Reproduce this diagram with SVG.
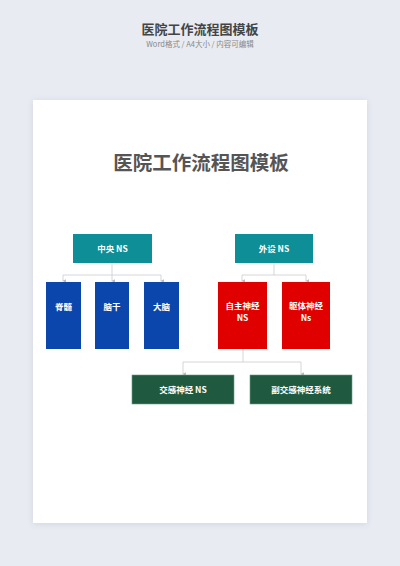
<svg xmlns="http://www.w3.org/2000/svg" width="400" height="566" viewBox="0 0 400 566">
<defs>
<filter id="sh" x="-10%" y="-10%" width="120%" height="120%"><feGaussianBlur stdDeviation="3"/></filter>
<marker id="ar" viewBox="0 0 6 6" refX="3" refY="5" markerWidth="4" markerHeight="4" orient="auto-start-reverse" markerUnits="userSpaceOnUse"><path d="M0,0 L6,0 L3,6 z" fill="#bbbbbb"/></marker>
<style>
.t{font-family:"Noto Sans CJK SC","Noto Sans",sans-serif;font-weight:bold;fill:#fff;font-size:8.5px;text-anchor:middle}
.c{fill:none;stroke:#cccccc;stroke-width:0.8}
.teal{fill:#0e8e96}
.blue{fill:#0a46ab}
.red{fill:#e00000}
.green{fill:#1f5a40;stroke:#6a9a84;stroke-width:0.6}
</style>
</defs>
<rect width="400" height="566" fill="#e8ebf2"/>
<text x="200" y="34" font-family="'Noto Sans CJK SC',sans-serif" font-weight="bold" font-size="13" fill="#444" text-anchor="middle">医院工作流程图模板</text>
<text x="200" y="47" font-family="'Noto Sans CJK SC',sans-serif" font-size="7.5" fill="#888" text-anchor="middle">Word格式 / A4大小 / 内容可编辑</text>
<rect x="33" y="101" width="334" height="423" fill="#d0d4de" filter="url(#sh)"/>
<rect x="33" y="100" width="334" height="423" fill="#ffffff"/>
<text x="201" y="170" font-family="'Noto Sans CJK SC',sans-serif" font-weight="bold" font-size="19.5" fill="#555" text-anchor="middle">医院工作流程图模板</text>
<g id="connectors">
<path class="c" d="M112,263 V275 M63,275 H161"/>
<path class="c" d="M63,275 V281" marker-end="url(#ar)"/>
<path class="c" d="M112,275 V281" marker-end="url(#ar)"/>
<path class="c" d="M161,275 V281" marker-end="url(#ar)"/>
<path class="c" d="M274,263 V275 M242,275 H306"/>
<path class="c" d="M242,275 V281" marker-end="url(#ar)"/>
<path class="c" d="M306,275 V281" marker-end="url(#ar)"/>
<path class="c" d="M243,349 V362 M183,362 H301"/>
<path class="c" d="M183,362 V374" marker-end="url(#ar)"/>
<path class="c" d="M301,362 V374" marker-end="url(#ar)"/>
</g>
<g id="n-zhongyang"><rect class="teal" x="73" y="234" width="79" height="29"/><text class="t" x="112.5" y="252">中央 NS</text></g>
<g id="n-waishe"><rect class="teal" x="235" y="234" width="78" height="29"/><text class="t" x="274" y="252">外设 NS</text></g>
<g id="n-jisui"><rect class="blue" x="46" y="282" width="35" height="67"/><text class="t" x="63.5" y="310">脊髓</text></g>
<g id="n-naogan"><rect class="blue" x="95" y="282" width="34" height="67"/><text class="t" x="112" y="310">脑干</text></g>
<g id="n-danao"><rect class="blue" x="144" y="282" width="35" height="67"/><text class="t" x="161.5" y="310">大脑</text></g>
<g id="n-zizhu"><rect class="red" x="218" y="282" width="49" height="67"/><text class="t" x="242.5" y="309">自主神经</text><text class="t" x="242.5" y="320.5">NS</text></g>
<g id="n-quti"><rect class="red" x="282" y="282" width="48" height="67"/><text class="t" x="306" y="309">躯体神经</text><text class="t" x="306" y="320.5">Ns</text></g>
<g id="n-jiaogan"><rect class="green" x="132" y="375" width="102" height="29"/><text class="t" x="183" y="393">交感神经 NS</text></g>
<g id="n-fujiaogan"><rect class="green" x="250" y="375" width="102" height="29"/><text class="t" x="301" y="393">副交感神经系统</text></g>
</svg>
